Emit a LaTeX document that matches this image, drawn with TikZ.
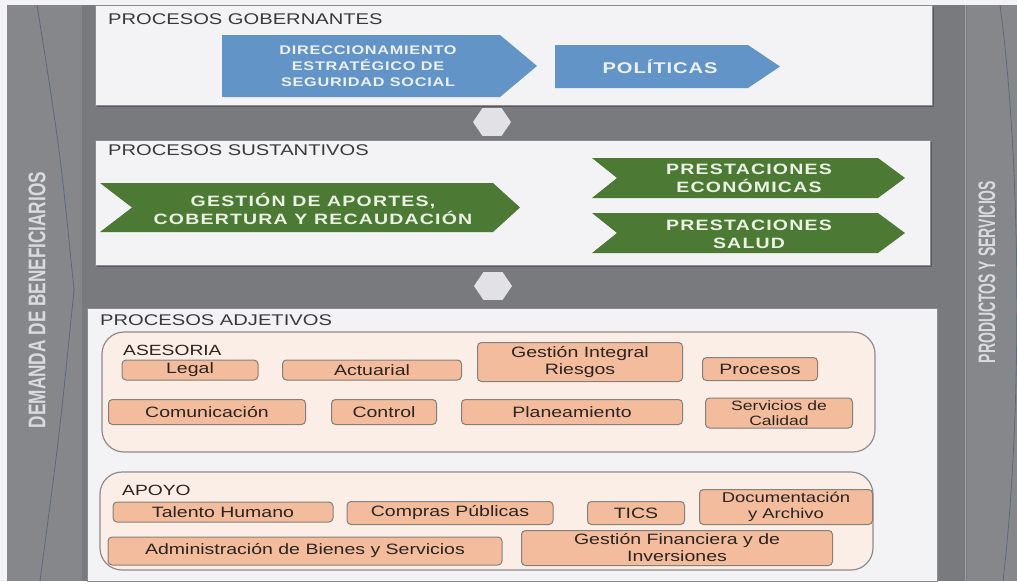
\documentclass[tikz,border=0pt]{standalone}
\usepackage{fontspec}
\setmainfont[FakeStretch=1.3]{Liberation Sans}
\newfontfamily\rotfont{Liberation Sans}
\newfontfamily\bluefont[FakeStretch=1.3, LetterSpace=6]{Liberation Sans}
\newfontfamily\greenfont[FakeStretch=1.3, LetterSpace=8]{Liberation Sans}
\usetikzlibrary{shapes.geometric}

\definecolor{bggray}{RGB}{121,122,126}
\definecolor{stripgray}{RGB}{134,135,138}
\definecolor{panelfill}{RGB}{243,243,245}
\definecolor{shadowgray}{RGB}{88,88,94}
\definecolor{bluearrow}{RGB}{98,148,200}
\definecolor{greenarrow}{RGB}{76,121,52}
\definecolor{bluetext}{RGB}{236,241,248}
\definecolor{greentext}{RGB}{234,242,226}
\definecolor{grpfill}{RGB}{251,238,230}
\definecolor{grpline}{RGB}{140,140,142}
\definecolor{tagfill}{RGB}{242,188,157}
\definecolor{tagline}{RGB}{132,128,126}
\definecolor{darktext}{RGB}{44,36,32}
\definecolor{hdrtext}{RGB}{58,58,60}
\definecolor{sidetext}{RGB}{218,218,222}
\definecolor{hexfill}{RGB}{226,226,230}
\definecolor{curveline}{RGB}{92,104,126}

\tikzset{
  panel/.style={fill=panelfill, draw=grpline, line width=0.4pt},
  shadow/.style={fill=shadowgray},
  bluechev/.style={fill=bluearrow},
  greenchev/.style={fill=greenarrow},
  bluelbl/.style={text=bluetext, font=\bluefont\bfseries\fontsize{12.5}{16}\selectfont, align=center, inner sep=0},
  greenlbl/.style={text=greentext, font=\greenfont\bfseries\fontsize{15}{18}\selectfont, align=center, inner sep=0},
  hdr/.style={text=hdrtext, font=\fontsize{15.5}{18}\selectfont, anchor=base west, inner sep=0},
  grp/.style={fill=grpfill, draw=grpline, line width=1.2pt, rounded corners=22pt},
  grplbl/.style={text=darktext, font=\fontsize{14.8}{17}\selectfont, anchor=base west, inner sep=0},
  tag/.style={fill=tagfill, draw=tagline, line width=1pt, rounded corners=4pt,
    text=darktext, font=\fontsize{15}{17}\selectfont, align=center, inner sep=0},
  hexa/.style={regular polygon, regular polygon sides=6, fill=hexfill, draw=none,
    minimum size=38pt, inner sep=0, yscale=0.85},
  sidelbl/.style={text=sidetext, rotate=90, inner sep=0},
}

\begin{document}
\begin{tikzpicture}[x=1pt, y=-1pt]
\useasboundingbox (0,0) rectangle (1017,581);

% backdrop and side strips
\fill[bggray] (0,0) rectangle (1017,581);
\fill[stripgray] (7,5) rectangle (82,581);
\fill[stripgray] (967,5) rectangle (1017,581);
\fill[panelfill] (0,0) rectangle (1017,5);
\fill[panelfill] (0,0) rectangle (7,581);
\draw[color=curveline, line width=0.8pt] (37,5) .. controls (60,150) .. (74,290) .. controls (60,430) .. (40,581);
\draw[color={rgb,255:red,160;green,162;blue,168}, line width=1pt] (965,5) -- (965,581);
\draw[color=curveline, line width=0.8pt] (1000,5) .. controls (1022,170) and (1022,420) .. (1003,581);

\node[sidelbl, font=\rotfont\bfseries\fontsize{17.2}{20}\selectfont] (demanda) at (37,300)
  {\scalebox{1}[1.4]{DEMANDA DE BENEFICIARIOS}};
\node[sidelbl, font=\rotfont\bfseries\fontsize{14}{16}\selectfont] (productos) at (987,272)
  {\scalebox{1}[1.7]{PRODUCTOS Y SERVICIOS}};

% panels
\fill[shadow] (97,7) rectangle (934,107);
\fill[panel] (95,5) rectangle (932,105);
\fill[shadow] (97,142) rectangle (932,267);
\fill[panel] (95,140) rectangle (930,265);
\fill[panel] (87,308) rectangle (937,581);

% connectors between the levels
\node[hexa] (hex1) at (492,122) {};
\node[hexa] (hex2) at (493,286) {};

% governing processes
\node[hdr] (gob) at (108,24) {PROCESOS GOBERNANTES};
\fill[bluechev] (222,35) -- (500,35) -- (537,66) -- (500,97) -- (222,97) -- cycle;
\node[bluelbl] (direc) at (368,66) {DIRECCIONAMIENTO\\ESTRATÉGICO DE\\SEGURIDAD SOCIAL};
\fill[bluechev] (555,45) -- (748,45) -- (780,66.5) -- (748,88) -- (555,88) -- cycle;
\node[bluelbl, font=\bluefont\bfseries\fontsize{15.5}{18}\selectfont] (polit) at (660,67) {POLÍTICAS};

% substantive processes
\node[hdr] (sust) at (108,155) {PROCESOS SUSTANTIVOS};
\fill[greenchev] (100,183) -- (493,183) -- (520,207.5) -- (493,232) -- (100,232) -- (132,207.5) -- cycle;
\node[greenlbl] (aportes) at (313,209) {GESTIÓN DE APORTES,\\COBERTURA Y RECAUDACIÓN};
\fill[greenchev] (592,158) -- (878,158) -- (905,178) -- (878,198) -- (592,198) -- (617,178) -- cycle;
\node[greenlbl] (econ) at (749,178) {PRESTACIONES\\ECONÓMICAS};
\fill[greenchev] (592,213) -- (878,213) -- (905,233) -- (878,253) -- (592,253) -- (617,233) -- cycle;
\node[greenlbl] (salud) at (749,234) {PRESTACIONES\\SALUD};

% adjective processes
\node[hdr] (adj) at (100,325) {PROCESOS ADJETIVOS};

\draw[grp] (102,332) rectangle (875,452);
\node[grplbl] (ases) at (123,355) {ASESORIA};
\node[tag, minimum width=136pt, minimum height=20pt] (legal) at (190,370) {Legal};
\node[tag, minimum width=179pt, minimum height=20pt] (actu) at (372,370) {Actuarial};
\node[tag, minimum width=205pt, minimum height=39pt] (riesgos) at (580,362) {Gestión Integral\\Riesgos};
\node[tag, minimum width=115pt, minimum height=23pt] (proc) at (760,369) {Procesos};
\node[tag, minimum width=197pt, minimum height=25pt] (comu) at (207,412) {Comunicación};
\node[tag, minimum width=105pt, minimum height=25pt] (ctrl) at (384,412) {Control};
\node[tag, minimum width=221pt, minimum height=25pt] (plan) at (572,412) {Planeamiento};
\node[tag, minimum width=147pt, minimum height=30pt, font=\fontsize{13.5}{15}\selectfont] (calid) at (779,413) {Servicios de\\Calidad};

\draw[grp] (100,472) rectangle (873,570);
\node[grplbl] (apoyo) at (122,495) {APOYO};
\node[tag, minimum width=220pt, minimum height=20pt] (talento) at (223,512) {Talento Humano};
\node[tag, minimum width=206pt, minimum height=23pt] (compras) at (450,513) {Compras Públicas};
\node[tag, minimum width=97pt, minimum height=23pt] (tics) at (636,513) {TICS};
\node[tag, minimum width=173pt, minimum height=35pt, font=\fontsize{14.2}{16}\selectfont] (docu) at (786,507) {Documentación\\y Archivo};
\node[tag, minimum width=394pt, minimum height=28pt] (admin) at (305,551) {Administración de Bienes y Servicios};
\node[tag, minimum width=311pt, minimum height=35pt] (finan) at (677,548) {Gestión Financiera y de\\Inversiones};
\end{tikzpicture}
\end{document}
